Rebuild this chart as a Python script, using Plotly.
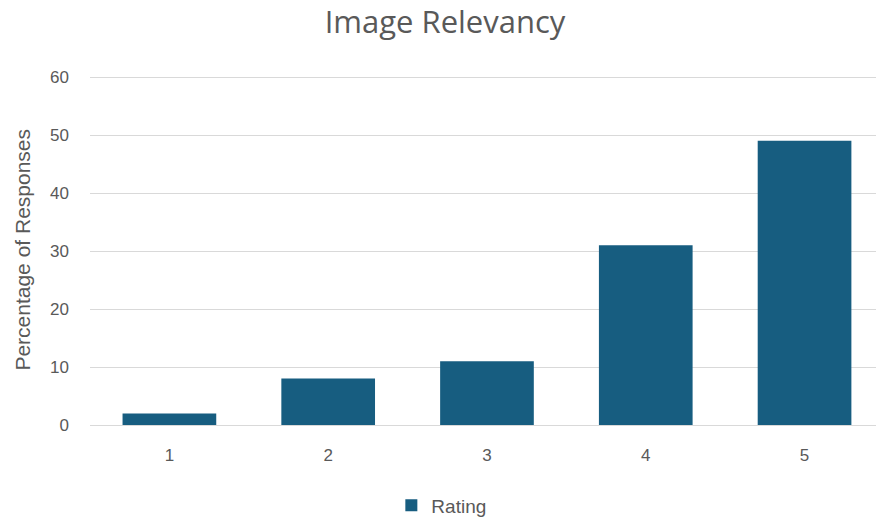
import plotly.graph_objects as go

ratings = [1, 2, 3, 4, 5]
tick_labels = ["1", "2", "3", "4", "5"]
percentages = [2, 8, 11, 31, 49]
series_name = "Rating"
y_title = "Percentage of Responses"

bar_color = "#175d80"
text_gray = "#595959"
grid_gray = "#d9d9d9"
body_font = "Liberation Sans, Arial, sans-serif"

fig = go.Figure(
    go.Bar(
        x=ratings,
        y=percentages,
        name=series_name,
        marker=dict(color=bar_color, line=dict(width=0)),
        width=0.59,
        showlegend=True,
    )
)

fig.update_layout(
    width=876,
    height=521,
    margin=dict(l=90, r=0, t=75, b=96, autoexpand=False),
    paper_bgcolor="white",
    plot_bgcolor="white",
    font=dict(family=body_font, color=text_gray),
    title=dict(
        text="Image Relevancy",
        x=0.508,
        xanchor="center",
        y=0.958,
        yanchor="middle",
        font=dict(size=31, color=text_gray, family="Open Sans, Arial, sans-serif"),
    ),
    xaxis=dict(
        range=[0.5, 5.45],
        tickmode="array",
        tickvals=ratings,
        ticktext=tick_labels,
        showgrid=False,
        zeroline=False,
        showline=False,
        ticks="",
        ticklabelstandoff=18,
        tickfont=dict(size=17, color=text_gray, family=body_font),
    ),
    yaxis=dict(
        range=[0, 60.35],
        tickvals=[0, 10, 20, 30, 40, 50, 60],
        showgrid=True,
        gridcolor=grid_gray,
        gridwidth=1.4,
        zeroline=True,
        zerolinecolor=grid_gray,
        zerolinewidth=1.4,
        showline=False,
        ticks="",
        ticklabelstandoff=20,
        tickfont=dict(size=17, color=text_gray, family=body_font),
    ),
    annotations=[
        dict(
            text=y_title,
            textangle=-90,
            xref="paper",
            yref="paper",
            x=-0.087,
            y=0.5,
            xanchor="center",
            yanchor="middle",
            showarrow=False,
            font=dict(size=21, color=text_gray, family=body_font),
        )
    ],
    legend=dict(
        orientation="h",
        x=0.447,
        xanchor="center",
        yref="container",
        y=0.03,
        yanchor="middle",
        font=dict(size=19, color=text_gray, family=body_font),
        itemwidth=30,
    ),
    bargap=0.41,
)

fig.write_html("out.html")
